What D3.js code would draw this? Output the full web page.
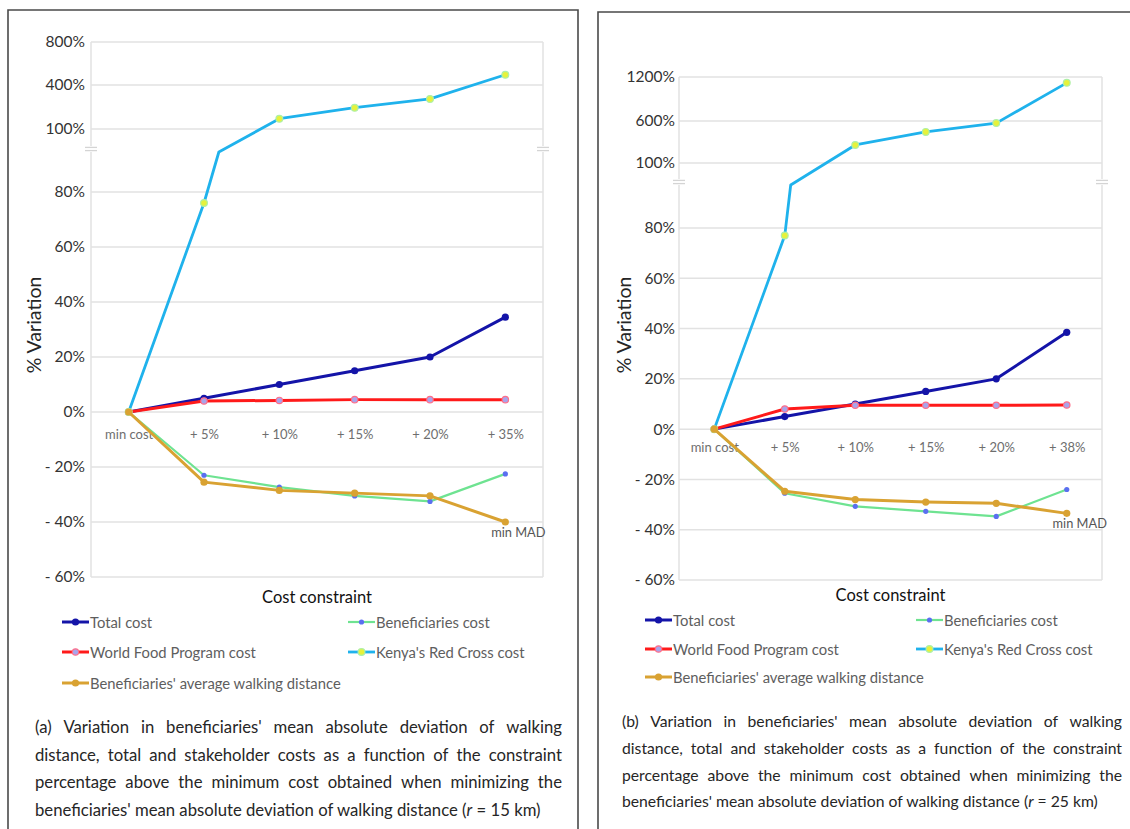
<!DOCTYPE html>
<html>
<head>
<meta charset="utf-8">
<script src="https://cdn.jsdelivr.net/npm/d3@7"></script>
<style>
body { margin: 0; background: #fff; }
svg text { font-family: Lato, "Liberation Sans", Arial, sans-serif; }
</style>
</head>
<body>
<svg id="canvas" width="1130" height="829"></svg>
<script>
'use strict';

// ---- data ----
const categoriesA = ['min cost', '+ 5%', '+ 10%', '+ 15%', '+ 20%', '+ 35%'];
const categoriesB = ['min cost', '+ 5%', '+ 10%', '+ 15%', '+ 20%', '+ 38%'];

const totalCostA = [0, 5, 10, 15, 20, 34.5];
const benefCostA = [0, -23, -27.3, -30.5, -32.5, -22.5];
const wfpCostA = [0, 4, 4.2, 4.5, 4.5, 4.5];
const redCrossA = [0, 76, 170, 245, 305, 495];
const walkingA = [0, -25.5, -28.5, -29.5, -30.5, -40];

const totalCostB = [0, 5, 10, 15, 20, 38.5];
const benefCostB = [0, -25.5, -30.7, -32.7, -34.7, -24];
const wfpCostB = [0, 8, 9.5, 9.5, 9.5, 9.6];
const redCrossB = [0, 77, 315, 470, 575, 1120];
const walkingB = [0, -24.7, -28, -29, -29.5, -33.5];

const lowerTicks = [-60, -40, -20, 0, 20, 40, 60, 80];
const upperTicksA = [100, 400, 800];
const upperTicksB = [100, 600, 1200];

const seriesNames = ['Total cost', 'Beneficiaries cost', 'World Food Program cost',
    "Kenya's Red Cross cost", "Beneficiaries' average walking distance"];

const captionA = [
    "(a) Variation in beneficiaries' mean absolute deviation of walking",
    "distance, total and stakeholder costs as a function of the constraint",
    "percentage above the minimum cost obtained when minimizing the"
];
const captionB = [
    "(b) Variation in beneficiaries' mean absolute deviation of walking",
    "distance, total and stakeholder costs as a function of the constraint",
    "percentage above the minimum cost obtained when minimizing the"
];
const captionLastA = ["beneficiaries' mean absolute deviation of walking distance (", 'r', ' = 15 km)'];
const captionLastB = ["beneficiaries' mean absolute deviation of walking distance (", 'r', ' = 25 km)'];

// ---- styles per series (same order as seriesNames) ----
const styles = [
    { color: '#1414a8', width: 3, r: 3.6, fill: '#1414a8', stroke: 'none' },
    { color: '#6ee391', width: 2.2, r: 2.6, fill: '#5a6ff0', stroke: 'none' },
    { color: '#ff1a1a', width: 3, r: 3.2, fill: '#a9a4ea', stroke: '#ff6f8a' },
    { color: '#1fb2ec', width: 2.8, r: 3.4, fill: '#e6f23c', stroke: '#aef0a6' },
    { color: '#d9a232', width: 3, r: 3.6, fill: '#d9a232', stroke: 'none' }
];
const drawOrder = [0, 1, 2, 3, 4];

const svg = d3.select('#canvas');

function pctLabel(v) {
    return v < 0 ? '- ' + (-v) + '%' : v + '%';
}

function drawMarker(sel, st, cx, cy) {
    sel.append('circle')
        .attr('cx', cx).attr('cy', cy).attr('r', st.r)
        .attr('fill', st.fill)
        .attr('stroke', st.stroke)
        .attr('stroke-width', st.stroke === 'none' ? 0 : 1.2);
}

function drawChart(cfg) {
    const g = svg.append('g');
    const cats = cfg.categories;

    // panel frame
    g.append('path')
        .attr('d', cfg.frame)
        .attr('fill', 'none')
        .attr('stroke', '#4a4a4a')
        .attr('stroke-width', 1.6);

    const x = d3.scalePoint().domain(cats).range([cfg.left, cfg.right]).padding(0.5);
    const yLow = d3.scaleLinear().domain([-60, 80]).range([cfg.lowBottom, cfg.y80]);
    const yUp = d3.scaleLinear().domain(cfg.upperTicks).range(cfg.upperRange);
    const lowMax = yLow.invert(cfg.lowTop);
    const yOf = function(v) { return v <= lowMax ? yLow(v) : yUp(v); };

    // gridlines
    const grid = g.append('g').attr('stroke', '#e2e2e2').attr('stroke-width', 1.5);
    grid.selectAll('line.low')
        .data(lowerTicks)
        .enter().append('line')
        .attr('x1', cfg.left).attr('x2', cfg.right)
        .attr('y1', function(d) { return yLow(d); })
        .attr('y2', function(d) { return yLow(d); });
    grid.selectAll('line.up')
        .data(cfg.upperTicks)
        .enter().append('line')
        .attr('x1', cfg.left).attr('x2', cfg.right)
        .attr('y1', function(d) { return yUp(d); })
        .attr('y2', function(d) { return yUp(d); });

    // plot area side borders, split by the axis break
    const upTop = yUp(cfg.upperTicks[cfg.upperTicks.length - 1]);
    [cfg.left, cfg.right].forEach(function(xx) {
        grid.append('line').attr('x1', xx).attr('x2', xx).attr('y1', upTop).attr('y2', cfg.upBottom);
        grid.append('line').attr('x1', xx).attr('x2', xx).attr('y1', cfg.lowTop).attr('y2', yLow(-60));
        const mid = (cfg.upBottom + cfg.lowTop) / 2;
        [-1.6, 1.6].forEach(function(o) {
            g.append('line')
                .attr('x1', xx - 6).attr('x2', xx + 6)
                .attr('y1', mid + o).attr('y2', mid + o)
                .attr('stroke', '#d4d4d4').attr('stroke-width', 1.3);
        });
    });

    // y axes
    const axLow = g.append('g')
        .attr('transform', 'translate(' + cfg.left + ',0)')
        .call(d3.axisLeft(yLow).tickValues(lowerTicks).tickSize(0).tickPadding(cfg.yPad).tickFormat(pctLabel));
    const axUp = g.append('g')
        .attr('transform', 'translate(' + cfg.left + ',0)')
        .call(d3.axisLeft(yUp).tickValues(cfg.upperTicks).tickSize(0).tickPadding(cfg.yPad).tickFormat(pctLabel));
    [axLow, axUp].forEach(function(ax) {
        ax.select('.domain').remove();
        ax.selectAll('text')
            .attr('font-family', 'Lato, "Liberation Sans", Arial, sans-serif')
            .attr('font-size', cfg.yFont)
            .attr('fill', '#333');
    });

    // category labels sit just below the 0% line
    const axX = g.append('g')
        .attr('transform', 'translate(0,' + yLow(0) + ')')
        .call(d3.axisBottom(x).tickSize(0).tickPadding(cfg.xPad));
    axX.select('.domain').remove();
    axX.selectAll('text')
        .attr('font-family', 'Lato, "Liberation Sans", Arial, sans-serif')
        .attr('font-size', 13)
        .attr('fill', '#6e6e6e');

    // series lines; a segment leaving the lower panel gets a corner at the break
    const line = d3.line();
    drawOrder.forEach(function(si) {
        const vals = cfg.series[si];
        const st = styles[si];
        const pts = [];
        vals.forEach(function(v, i) {
            if (i > 0) {
                const p = vals[i - 1];
                if ((p <= lowMax) !== (v <= lowMax)) {
                    const t = (lowMax - p) / (v - p);
                    pts.push([x(cats[i - 1]) + t * (x(cats[i]) - x(cats[i - 1])), cfg.lowTop]);
                }
            }
            pts.push([x(cats[i]), yOf(v)]);
        });
        g.append('path')
            .attr('d', line(pts))
            .attr('fill', 'none')
            .attr('stroke', st.color)
            .attr('stroke-width', st.width)
            .attr('stroke-linejoin', 'round');
        vals.forEach(function(v, i) {
            drawMarker(g, st, x(cats[i]), yOf(v));
        });
    });

    // "min MAD" note at the last walking-distance point
    const lastW = cfg.series[4][cats.length - 1];
    g.append('text')
        .attr('x', x(cats[cats.length - 1]) + 13)
        .attr('y', yOf(lastW) + 15)
        .attr('text-anchor', 'middle')
        .attr('font-size', 12.8)
        .attr('fill', '#555')
        .text('min MAD');

    // axis titles
    g.append('text')
        .attr('transform', 'translate(' + cfg.yTitleX + ',' + cfg.yTitleY + ') rotate(-90)')
        .attr('text-anchor', 'middle')
        .attr('font-family', '"Liberation Sans", Arial, sans-serif')
        .attr('font-size', 19.5)
        .attr('fill', '#262626')
        .text('% Variation');
    g.append('text')
        .attr('x', (cfg.left + cfg.right) / 2)
        .attr('y', cfg.xTitleY)
        .attr('text-anchor', 'middle')
        .attr('font-size', 16.5)
        .attr('fill', '#111')
        .text('Cost constraint');

    // legend: two columns, three rows
    const legendSlots = [[0, 0], [1, 0], [0, 1], [1, 1], [0, 2]];
    const legendOrder = [0, 1, 2, 3, 4];
    legendOrder.forEach(function(si, k) {
        const slot = legendSlots[k];
        const lx = cfg.legendCols[slot[0]];
        const ly = cfg.legendRows[slot[1]];
        const st = styles[si];
        const lg = g.append('g');
        lg.append('line')
            .attr('x1', lx).attr('x2', lx + 27)
            .attr('y1', ly).attr('y2', ly)
            .attr('stroke', st.color).attr('stroke-width', st.width);
        drawMarker(lg, st, lx + 13.5, ly);
        lg.append('text')
            .attr('x', lx + 28)
            .attr('y', ly + 5.5)
            .attr('font-size', 14.8)
            .attr('fill', '#5e5e5e')
            .text(seriesNames[si]);
    });

    // caption: first lines justified, last line left aligned
    const cap = g.append('g').attr('fill', '#262626');
    const last = cap.append('text')
        .attr('x', cfg.capLeft)
        .attr('y', cfg.capBase + 3 * cfg.capStep)
        .attr('font-size', 16);
    cfg.captionLast.forEach(function(part, i) {
        last.append('tspan').attr('font-style', i === 1 ? 'italic' : 'normal').text(part);
    });
    const fs = 16 * cfg.capLastWidth / last.node().getComputedTextLength();
    last.attr('font-size', fs);

    cfg.caption.forEach(function(str, li) {
        const words = str.split(' ');
        const tw = words.map(function(w) {
            const t = cap.append('text').attr('font-size', fs).text(w);
            const len = t.node().getComputedTextLength();
            t.remove();
            return len;
        });
        const total = d3.sum(tw);
        const gap = (cfg.capRight - cfg.capLeft - total) / (words.length - 1);
        let cx = cfg.capLeft;
        words.forEach(function(w, i) {
            cap.append('text')
                .attr('x', cx)
                .attr('y', cfg.capBase + li * cfg.capStep)
                .attr('font-size', fs)
                .text(w);
            cx += tw[i] + gap;
        });
    });
}

drawChart({
    categories: categoriesA,
    series: [totalCostA, benefCostA, wfpCostA, redCrossA, walkingA],
    upperTicks: upperTicksA,
    upperRange: [129, 85, 42],
    frame: 'M8,840 V10 H578 V840',
    left: 91, right: 543,
    lowBottom: 577, y80: 192,
    lowTop: 152, upBottom: 146,
    yPad: 6, yFont: 15.5, xPad: 18,
    yTitleX: 41, yTitleY: 325, xTitleY: 603,
    legendCols: [62, 348], legendRows: [622, 652, 683],
    caption: captionA, captionLast: captionLastA,
    capLeft: 35, capRight: 562, capLastWidth: 506,
    capBase: 733, capStep: 27.6
});

drawChart({
    categories: categoriesB,
    series: [totalCostB, benefCostB, wfpCostB, redCrossB, walkingB],
    upperTicks: upperTicksB,
    upperRange: [163, 121, 77],
    frame: 'M598,840 V12 H1140',
    left: 679, right: 1102,
    lowBottom: 580, y80: 228,
    lowTop: 185, upBottom: 179,
    yPad: 4, yFont: 15.5, xPad: 14,
    yTitleX: 631, yTitleY: 325, xTitleY: 601,
    legendCols: [645, 916], legendRows: [620, 649, 677],
    caption: captionB, captionLast: captionLastB,
    capLeft: 622, capRight: 1122, capLastWidth: 476,
    capBase: 727, capStep: 26.8
});
</script>
</body>
</html>
